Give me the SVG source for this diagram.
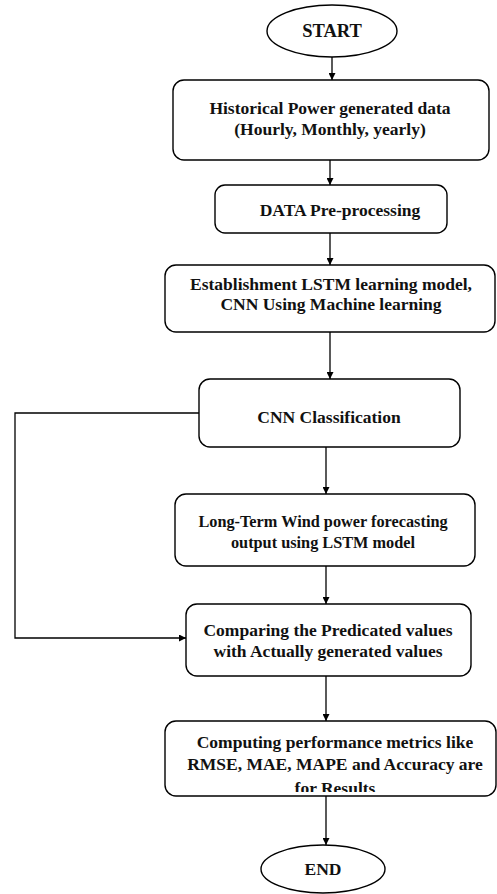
<svg xmlns="http://www.w3.org/2000/svg" width="497" height="894" viewBox="0 0 497 894">
<style>
.n{fill:#fff;stroke:#000;stroke-width:1.4}
.t{font-family:"Liberation Serif","Times New Roman",serif;font-weight:bold;font-size:17.5px;fill:#111;text-anchor:middle}
.s{font-size:16.3px}
.c{fill:none;stroke:#000;stroke-width:1.3}
</style>
<defs>
<marker id="a" viewBox="0 0 10 10" refX="10" refY="5" markerWidth="8" markerHeight="7" orient="auto" markerUnits="userSpaceOnUse"><path d="M0,0 L10,5 L0,10 z" fill="#000"/></marker>
<clipPath id="clip7"><rect x="165" y="721" width="332" height="71"/></clipPath>
</defs>
<rect width="497" height="894" fill="#fff"/>
<g id="connectors">
<line class="c" x1="332" y1="57" x2="332" y2="80" marker-end="url(#a)"/>
<line class="c" x1="330" y1="160" x2="330" y2="185" marker-end="url(#a)"/>
<line class="c" x1="330" y1="233" x2="330" y2="265" marker-end="url(#a)"/>
<line class="c" x1="330" y1="332" x2="330" y2="379" marker-end="url(#a)"/>
<line class="c" x1="326" y1="447" x2="326" y2="494" marker-end="url(#a)"/>
<line class="c" x1="326" y1="566" x2="326" y2="604" marker-end="url(#a)"/>
<line class="c" x1="326" y1="676" x2="326" y2="721" marker-end="url(#a)"/>
<line class="c" x1="326" y1="796" x2="326" y2="845" marker-end="url(#a)"/>
<polyline class="c" points="199,413 15,413 15,638 186,638" marker-end="url(#a)"/>
</g>
<g id="start">
<ellipse class="n" cx="332" cy="31" rx="65" ry="26"/>
<text class="t" x="332" y="37" style="font-size:18.5px">START</text>
</g>
<g id="historical">
<rect class="n" x="173" y="80" width="316" height="80" rx="11"/>
<text class="t" x="330" y="114">Historical Power generated data</text>
<text class="t" x="330" y="135">(Hourly, Monthly, yearly)</text>
</g>
<g id="preprocessing">
<rect class="n" x="215" y="185" width="232" height="48" rx="10"/>
<text class="t" x="340" y="216">DATA Pre-processing</text>
</g>
<g id="establishment">
<rect class="n" x="165" y="265" width="330" height="67" rx="11"/>
<text class="t" x="331" y="290">Establishment LSTM learning model,</text>
<text class="t" x="331" y="310">CNN Using Machine learning</text>
</g>
<g id="cnn">
<rect class="n" x="199" y="379" width="261" height="68" rx="11"/>
<text class="t" x="329" y="423">CNN Classification</text>
</g>
<g id="lstm">
<rect class="n" x="175" y="494" width="300" height="72" rx="11"/>
<text class="t s" x="323" y="527">Long-Term Wind power forecasting</text>
<text class="t s" x="323" y="548">output using LSTM model</text>
</g>
<g id="comparing">
<rect class="n" x="186" y="604" width="285" height="72" rx="11"/>
<text class="t" x="328" y="636">Comparing the Predicated values</text>
<text class="t" x="328" y="657">with Actually generated values</text>
</g>
<g id="computing">
<rect class="n" x="165" y="721" width="331" height="75" rx="11"/>
<g clip-path="url(#clip7)">
<text class="t" x="335" y="748">Computing performance metrics like</text>
<text class="t" x="335" y="770">RMSE, MAE, MAPE and Accuracy are</text>
<text class="t" x="335" y="794">for Results</text>
</g>
</g>
<g id="end">
<ellipse class="n" cx="323" cy="869" rx="62" ry="24"/>
<text class="t" x="323" y="875">END</text>
</g>
</svg>
